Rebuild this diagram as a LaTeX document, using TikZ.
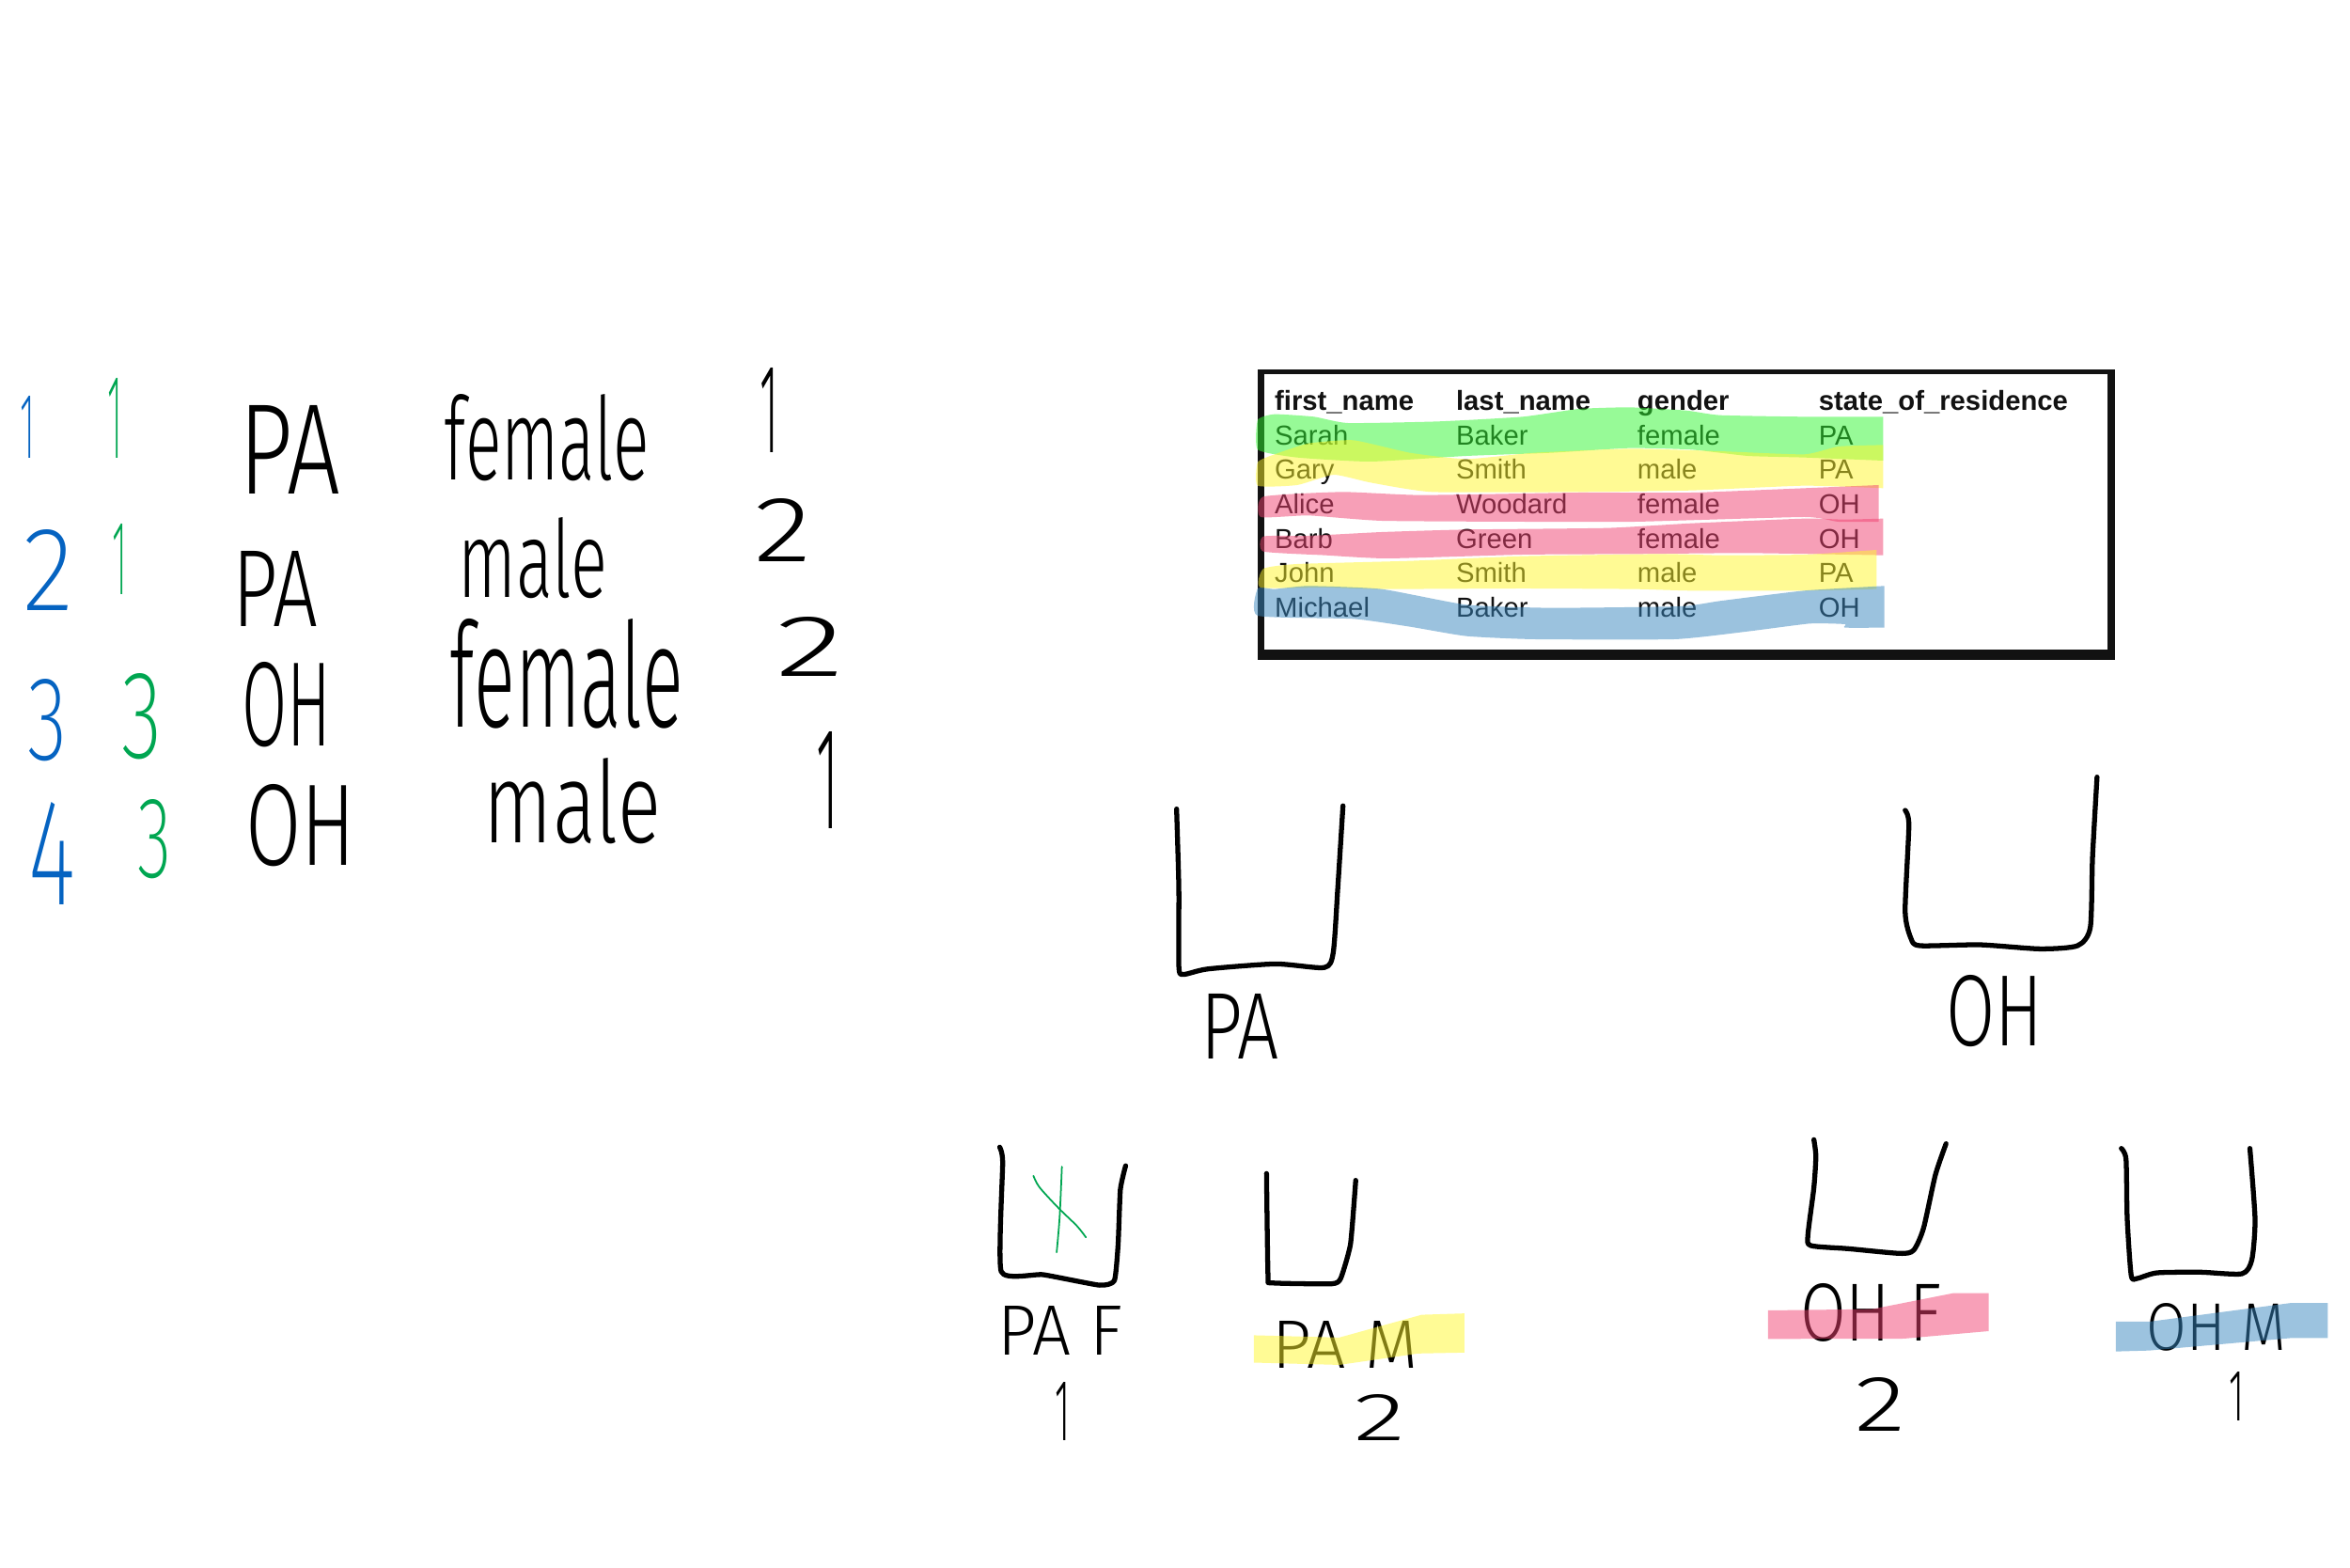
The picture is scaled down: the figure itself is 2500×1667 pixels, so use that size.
\documentclass[tikz,border=0pt]{standalone}
\usepackage{xcolor}
\usepackage{fontspec}
\usetikzlibrary{positioning}

\newfontfamily\tablefont{Liberation Sans}
\newfontfamily\handfont{Fira Sans Light}
\newfontfamily\thinfont{Fira Sans ExtraLight}

\definecolor{inkblue}{HTML}{0563C1}
\definecolor{inkgreen}{HTML}{00A651}
\definecolor{markgreen}{RGB}{49,247,49}
\definecolor{markyellow}{RGB}{255,247,43}
\definecolor{markpink}{RGB}{241,65,113}
\definecolor{markblue}{RGB}{57,135,191}

\newdimen\pxu
\pxu=0.04cm
\newcommand{\hand}[3]{\resizebox{#1\pxu}{#2\pxu}{\handfont #3}}
\newcommand{\thinhand}[3]{\resizebox{#1\pxu}{#2\pxu}{\thinfont #3}}

\tikzset{
  cell/.style={inner sep=0pt, text width=7.70cm, text height=1.10cm, text depth=.35cm,
    align=left, text=black!93, font=\tablefont\fontsize{33.3}{36}\selectfont},
  headcell/.style={cell, font=\tablefont\bfseries\fontsize{33.3}{36}\selectfont},
  word/.style={inner sep=0pt, text=black},
  blueword/.style={word, text=inkblue},
  greenword/.style={word, text=inkgreen},
  pen/.style={line width=6pt, line cap=round, line join=round},
  greenpen/.style={line width=2pt, line cap=round, inkgreen},
  hilite/.style={fill opacity=.5},
  tablecrop/.style={shift={(1320,380)}, xscale=0.5995, yscale=0.3333},
  midcrop/.style={shift={(1030,800)}, xscale=0.7974, yscale=0.4847},
  rightcrop/.style={shift={(1840,1180)}, xscale=0.4209, yscale=0.3333}
}

\begin{document}
\begin{tikzpicture}[x=0.04cm, y=-0.04cm]
\useasboundingbox (0,0) rectangle (2500,1667);

% left list
\node[blueword] (b1) at (30,454) {\thinhand{16}{66}{1}};
\node[blueword] (b2) at (52,606) {\thinhand{54}{86}{2}};
\node[blueword] (b3) at (51,766) {\thinhand{42}{86}{3}};
\node[blueword] (b4) at (56,908) {\thinhand{50}{109}{4}};
\node[greenword] (g1) at (123,445) {\thinhand{16}{85}{1}};
\node[greenword] (g2) at (128,595) {\thinhand{16}{75}{1}};
\node[greenword] (g3) at (151,762) {\thinhand{43}{90}{3}};
\node[greenword] (g4) at (165,893) {\thinhand{36}{83}{3}};

\node[word] (st1) at (308,478) {\hand{108}{94}{PA}};
\node[word] (st2) at (293,626) {\hand{91}{80}{PA}};
\node[word] (st3) at (305,750) {\hand{95}{89}{OH}};
\node[word] (st4) at (320,878) {\hand{117}{86}{OH}};
\node[word] (ge1) at (582,466) {\hand{218}{91}{female}};
\node[word] (ge2) at (567,594) {\hand{159}{85}{male}};
\node[word] (ge3) at (603,717) {\hand{248}{115}{female}};
\node[word] (ge4) at (609,852) {\hand{188}{90}{male}};
\node[word] (n1) at (818,436) {\hand{20}{90}{1}};
\node[word] (n2) at (833,564) {\hand{61}{67}{2}};
\node[word] (n3) at (862,688) {\hand{73}{63}{2}};
\node[word] (n4) at (880,830) {\hand{24}{103}{1}};

% table
\fill[black!93] (1338,393) rectangle (2250,702);
\fill[white] (1345,398) rectangle (2242,691);
\node[headcell, anchor=north west] (hfirst) at (1356,409) {first\_name};
\node[headcell, right=0pt of hfirst] (hlast) {last\_name};
\node[headcell, right=0pt of hlast] (hgender) {gender};
\node[headcell, right=0pt of hgender, text width=12cm] (hstate) {state\_of\_residence};
\node[cell, below=0pt of hfirst] (f1) {Sarah};
\node[cell, below=0pt of f1] (f2) {Gary};
\node[cell, below=0pt of f2] (f3) {Alice};
\node[cell, below=0pt of f3] (f4) {Barb};
\node[cell, below=0pt of f4] (f5) {John};
\node[cell, below=0pt of f5] (f6) {Michael};
\node[cell, right=0pt of f1] (l1) {Baker};
\node[cell, right=0pt of f2] (l2) {Smith};
\node[cell, right=0pt of f3] (l3) {Woodard};
\node[cell, right=0pt of f4] (l4) {Green};
\node[cell, right=0pt of f5] (l5) {Smith};
\node[cell, right=0pt of f6] (l6) {Baker};
\node[cell, right=0pt of l1] (s1) {female};
\node[cell, right=0pt of l2] (s2) {male};
\node[cell, right=0pt of l3] (s3) {female};
\node[cell, right=0pt of l4] (s4) {female};
\node[cell, right=0pt of l5] (s5) {male};
\node[cell, right=0pt of l6] (s6) {male};
\node[cell, right=0pt of s1] (r1) {PA};
\node[cell, right=0pt of s2] (r2) {PA};
\node[cell, right=0pt of s3] (r3) {OH};
\node[cell, right=0pt of s4] (r4) {OH};
\node[cell, right=0pt of s5] (r5) {PA};
\node[cell, right=0pt of s6] (r6) {OH};

% highlighter over the rows
\begin{scope}[tablecrop]
\fill[hilite, markgreen] plot[smooth, tension=.3] coordinates {(1140,190) (1000,190) (850,185) (790,170) (690,160) (600,165) (500,190) (350,205) (190,210) (130,190) (60,182) (30,200) (30,295) (100,320) (230,333) (400,315) (550,305) (690,290) (800,295) (900,315) (1000,320) (1140,330)} -- cycle;
\fill[hilite, markyellow] plot[smooth, tension=.3] coordinates {(1140,280) (1060,285) (1000,310) (850,300) (690,292) (520,305) (400,325) (300,305) (200,265) (120,275) (60,310) (30,335) (30,410) (100,408) (165,375) (230,400) (340,430) (600,430) (800,425) (1000,410) (1140,418)} -- cycle;
\fill[hilite, markpink] plot[smooth, tension=.3] coordinates {(1132,408) (1000,418) (800,432) (600,432) (320,440) (180,430) (40,445) (35,510) (120,505) (250,522) (500,525) (700,525) (1000,510) (1060,525) (1132,525)} -- cycle;
\fill[hilite, markpink] plot[smooth, tension=.3] coordinates {(1140,515) (1070,518) (1000,515) (800,530) (650,545) (400,550) (250,558) (120,570) (40,572) (40,620) (150,632) (260,642) (500,630) (700,628) (900,625) (1140,632)} -- cycle;
\fill[hilite, markyellow] plot[smooth, tension=.3] coordinates {(1128,615) (1000,630) (850,632) (750,628) (500,635) (300,650) (100,660) (40,675) (35,735) (150,735) (250,740) (500,738) (700,740) (800,745) (1000,745) (1128,740)} -- cycle;
\fill[hilite, markblue] plot[smooth, tension=.3] coordinates {(1142,730) (1000,745) (850,778) (780,795) (550,800) (400,790) (250,740) (120,730) (60,740) (30,738) (30,825) (200,835) (300,860) (400,890) (520,900) (770,900) (900,875) (1010,850) (1072,852) (1072,863) (1142,863)} -- cycle;
\end{scope}

% buckets
\begin{scope}[midcrop]
\draw[pen] plot[smooth, tension=.4] coordinates {(278,125) (281,300) (281,470) (287,488) (320,476) (410,465) (475,473) (487,440) (493,300) (500,118)};
\draw[pen] plot[smooth, tension=.4] coordinates {(1250,128) (1255,160) (1250,350) (1258,410) (1270,425) (1350,423) (1430,432) (1480,425) (1497,385) (1500,230) (1506,55)};
\draw[pen] plot[smooth, tension=.3] coordinates {(42,867) (46,900) (44,1140) (100,1147) (175,1170) (195,1160) (200,1080) (203,960) (210,908)};
\draw[pen] plot[smooth, tension=.3] coordinates {(398,925) (400,1150) (405,1165) (485,1167) (497,1155) (510,1080) (517,940)};
\draw[greenpen] plot[smooth] coordinates {(87,930) (95,955) (120,1000) (145,1040) (157,1065)};
\draw[greenpen] plot[smooth] coordinates {(125,910) (122,1020) (118,1098)};
\end{scope}
\begin{scope}[rightcrop]
\draw[pen] plot[smooth, tension=.4] coordinates {(213,97) (218,150) (213,250) (198,400) (205,435) (300,445) (430,460) (465,450) (490,380) (520,210) (547,110)};
\draw[pen] plot[smooth, tension=.4] coordinates {(990,125) (1002,160) (1005,350) (1015,530) (1030,540) (1080,522) (1190,520) (1295,525) (1320,480) (1328,350) (1315,125)};
\end{scope}

% bucket labels
\node[word] (papa) at (1319,1092) {\hand{84}{69}{PA}};
\node[word] (paoh) at (2122,1076) {\hand{103}{75}{OH}};
\node[word] (lpaf) at (1128,1415) {\hand{133}{52}{PA F}};
\node[word] (lpam) at (1431,1430) {\hand{155}{50}{PA M}};
\node[word] (lohf) at (1990,1396) {\hand{150}{61}{OH F}};
\node[word] (lohm) at (2358,1412) {\hand{149}{50}{OH M}};
\node[word] (cpaf) at (1130,1501) {\hand{16}{62}{1}};
\node[word] (cpam) at (1468,1508) {\hand{55}{49}{2}};
\node[word] (cohf) at (2000,1494) {\hand{54}{57}{2}};
\node[word] (cohm) at (2379,1485) {\hand{16}{52}{1}};

\begin{scope}[midcrop]
\fill[hilite, markyellow] (381,1280) -- (495,1285) -- (605,1235) -- (662,1232) -- (662,1318) -- (600,1320) -- (495,1345) -- (381,1340) -- cycle;
\end{scope}
\begin{scope}[rightcrop]
\fill[hilite, markpink] (97,642) -- (360,638) -- (565,587) -- (655,587) -- (655,708) -- (440,732) -- (97,733) -- cycle;
\fill[hilite, markblue] (976,678) -- (1060,678) -- (1420,618) -- (1512,618) -- (1512,730) -- (1420,730) -- (1060,770) -- (976,773) -- cycle;
\end{scope}
\end{tikzpicture}
\end{document}
